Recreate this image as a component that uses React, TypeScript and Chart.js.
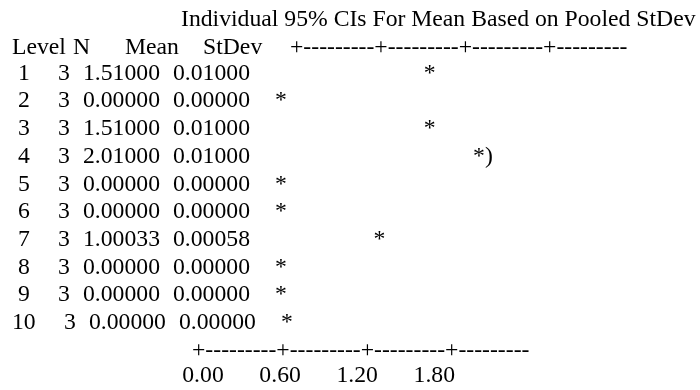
import React, { useEffect, useRef } from "react";
import { Chart, registerables } from "chart.js";

Chart.register(...registerables);

// ---- data ----
const titleText = "Individual 95% CIs For Mean Based on Pooled StDev";
const headerLabels = ["Level", "N", "Mean", "StDev"];
const levels = [1, 2, 3, 4, 5, 6, 7, 8, 9, 10];
const counts = [3, 3, 3, 3, 3, 3, 3, 3, 3, 3];
const means = [1.51, 0.0, 1.51, 2.01, 0.0, 0.0, 1.00033, 0.0, 0.0, 0.0];
const stdevs = [0.01, 0.0, 0.01, 0.01, 0.0, 0.0, 0.00058, 0.0, 0.0, 0.0];
const pointSuffix = ["", "", "", ")", "", "", "", "", "", ""];
const axisTickValues = [0.0, 0.6, 1.2, 1.8];
const axisRule = "+---------+---------+---------+---------";

// ---- layout / style ----
const FAMILY = '"Liberation Serif", "Times New Roman", serif';
const FONT_SIZE = 23.7;
const FONT = `${FONT_SIZE}px ${FAMILY}`;
const W = 700;
const H = 390;
const ROW1_Y = 73.5;
const ROW_STEP = 27.7;
const AXIS_H = FONT_SIZE * 1.2;
const STAR_X0 = 281;
const STAR_PER_UNIT = 98.5;
const TICK_X0 = 203;
const TICK_PER_UNIT = 128.5;

const COL = {
  level: 12,
  n: 73,
  mean: 125,
  stdev: 203,
  topRule: 290,
  nVal: 58,
  meanVal: 83,
  sdVal: 173,
  title: 181,
  bottomRule: 192,
};

const textPlugin = {
  id: "minitabText",
  afterDatasetsDraw(chart: any) {
    const ctx = chart.ctx as CanvasRenderingContext2D;
    const ys = chart.scales.y;
    ctx.save();
    ctx.fillStyle = "#000";
    ctx.textBaseline = "middle";
    ctx.textAlign = "left";
    ctx.font = FONT;
    // title
    ctx.fillText(titleText, COL.title, ys.getPixelForValue(-1) + 2);
    // header
    const hy = ys.getPixelForValue(0) + 2;
    ctx.fillText(headerLabels[0], COL.level, hy);
    ctx.fillText(headerLabels[1], COL.n, hy);
    ctx.fillText(headerLabels[2], COL.mean, hy);
    ctx.fillText(headerLabels[3], COL.stdev, hy);
    ctx.fillText(axisRule, COL.topRule, hy);
    // rows
    const baseW = ctx.measureText(" 1").width;
    const meta = chart.getDatasetMeta(0);
    levels.forEach((lv, i) => {
      const label = String(lv).padStart(2, " ");
      const shift = ctx.measureText(label).width - baseW;
      const py = ys.getPixelForValue(lv);
      ctx.textAlign = "left";
      ctx.fillText(label, COL.level, py);
      ctx.fillText(String(counts[i]), COL.nVal + shift, py);
      ctx.fillText(means[i].toFixed(5), COL.meanVal + shift, py);
      ctx.fillText(stdevs[i].toFixed(5), COL.sdVal + shift, py);
      const el = meta.data[i];
      if (el) {
        ctx.textAlign = "center";
        ctx.fillText("*", el.x + shift, el.y);
        if (pointSuffix[i]) {
          ctx.textAlign = "left";
          ctx.fillText(pointSuffix[i], el.x + shift + ctx.measureText("*").width / 2, el.y);
        }
      }
    });
    ctx.textAlign = "left";
    ctx.fillText(axisRule, COL.bottomRule, ys.getPixelForValue(11));
    ctx.restore();
  },
};

export default function App() {
  const ref = useRef<HTMLCanvasElement | null>(null);
  useEffect(() => {
    document.body.style.margin = "0";
    const canvas = ref.current;
    if (!canvas) return;
    const bottom = H - AXIS_H;
    const chart = new Chart(canvas, {
      type: "scatter",
      data: {
        datasets: [
          {
            data: levels.map((lv, i) => ({ x: means[i], y: lv })),
            pointRadius: 0,
            pointHoverRadius: 0,
            showLine: false,
          },
        ],
      },
      options: {
        animation: false,
        responsive: false,
        devicePixelRatio: 1,
        layout: { padding: 0 },
        plugins: { legend: { display: false }, tooltip: { enabled: false } },
        scales: {
          x: {
            type: "linear",
            display: false,
            min: -STAR_X0 / STAR_PER_UNIT,
            max: (W - STAR_X0) / STAR_PER_UNIT,
          },
          x2: {
            type: "linear",
            axis: "x",
            position: "bottom",
            min: -TICK_X0 / TICK_PER_UNIT,
            max: (W - TICK_X0) / TICK_PER_UNIT,
            afterBuildTicks: (s: any) => {
              s.ticks = axisTickValues.map((v) => ({ value: v }));
            },
            grid: { display: false, drawTicks: false, tickLength: 0 },
            border: { display: false },
            ticks: {
              padding: 0,
              autoSkip: false,
              maxRotation: 0,
              color: "#000",
              font: { family: FAMILY, size: FONT_SIZE },
              callback: (v: any) => Number(v).toFixed(2),
            },
          },
          y: {
            type: "linear",
            display: false,
            reverse: true,
            min: 1 - ROW1_Y / ROW_STEP,
            max: 1 + (bottom - ROW1_Y) / ROW_STEP,
          },
        },
      },
      plugins: [textPlugin],
    } as any);
    return () => chart.destroy();
  }, []);
  return (
    <div style={{ width: W, height: H, background: "#fff" }}>
      <canvas ref={ref} width={W} height={H} style={{ display: "block" }} />
    </div>
  );
}
